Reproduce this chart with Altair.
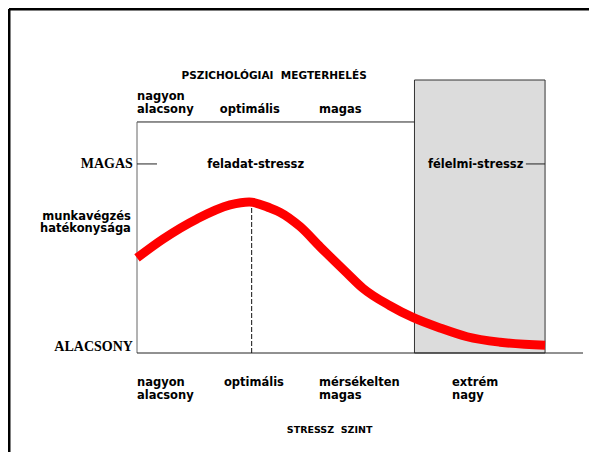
import altair as alt
import pandas as pd

# ---- data (stress level 0..100 across the plot box, performance 0=ALACSONY, 10=MAGAS)
stress = [0, 6.4, 14.7, 22.8, 27.5, 32.6, 35.0, 40.0, 44.9, 51.5, 55.4, 62.0, 67.6, 74.3, 80.9, 89.0, 100]
perf = [5.03, 6.03, 7.09, 7.83, 7.99, 7.67, 7.45, 6.68, 5.61, 4.22, 3.42, 2.50, 1.88, 1.32, 0.86, 0.57, 0.41]

optimum_x = 28.1
optimum_top = 7.78
fear_zone = [68.0, 100]
box_top = 12.22
zone_top = 14.44
high_level = 10
x_max = 109.3

top_labels = ["nagyon", "alacsony", "optimális", "magas"]
top_label_x = [0, 0, 20.3, 44.6]
top_label_y = [13.40, 12.72, 12.72, 12.72]

bottom_labels = ["nagyon", "alacsony", "optimális", "mérsékelten", "magas", "extrém", "nagy"]
bottom_label_x = [0, 0, 21.3, 44.6, 44.6, 77.2, 77.2]
bottom_label_y = [-1.75, -2.41, -1.75, -1.75, -2.41, -1.75, -2.41]

zone_labels = ["feladat-stressz", "félelmi-stressz"]
zone_label_x = [17.2, 71.3]
zone_label_y = [9.79, 9.79]

y_labels_serif = ["MAGAS", "ALACSONY"]
y_labels_serif_y = [9.79, 0.1]
y_label_lines = ["munkavégzés", "hatékonysága"]
y_label_lines_y = [7.06, 6.39]
label_right_x = -1.5

titles = ["PSZICHOLÓGIAI\u00a0\u00a0MEGTERHELÉS", "STRESSZ\u00a0\u00a0SZINT"]
title_x = [33.6, 47.2]
title_y = [14.5, -4.23]
title_size = [10.5, 9.5]

# page frame (in the same data units)
frame_x = [-31.37, 110.8]
frame_y = [-5.3, 18.2]

xs = alt.Scale(domain=[0, x_max], nice=False, zero=False)
ys = alt.Scale(domain=[0, zone_top], nice=False, zero=False)
X = lambda f: alt.X(f, type="quantitative", scale=xs, axis=None)
Y = lambda f: alt.Y(f, type="quantitative", scale=ys, axis=None)

zone = alt.Chart(pd.DataFrame({"x": [fear_zone[0]], "x2": [fear_zone[1]], "y": [0], "y2": [zone_top]})).mark_rect(
    fill="#dcdcdc", stroke="#333333", strokeWidth=1
).encode(x=X("x"), x2="x2", y=Y("y"), y2="y2")

segs = pd.DataFrame({
    "x": [frame_x[0], frame_x[0], 0, 0, 0, 0, 95.3],
    "x2": [frame_x[1], frame_x[0], fear_zone[0], 0, x_max, 4.9, 100],
    "y": [frame_y[1], frame_y[0], box_top, 0, 0, high_level, high_level],
    "y2": [frame_y[1], frame_y[1], box_top, box_top, 0, high_level, high_level],
    "w": [3, 3, 1, 1, 1, 1, 1],
    "c": ["#000000", "#000000", "#222222", "#666666", "#222222", "#222222", "#222222"],
})
rules = alt.Chart(segs).mark_rule().encode(
    x=X("x"), x2="x2", y=Y("y"), y2="y2",
    strokeWidth=alt.StrokeWidth("w:Q", scale=None),
    color=alt.Color("c:N", scale=None),
)

dashed = alt.Chart(pd.DataFrame({"x": [optimum_x], "y": [0], "y2": [optimum_top]})).mark_rule(
    color="#111111", strokeWidth=1, strokeDash=[5, 2]
).encode(x=X("x"), y=Y("y"), y2="y2")

curve = alt.Chart(pd.DataFrame({"x": stress, "y": perf})).mark_line(
    color="#ff0000", strokeWidth=9, interpolate="monotone", strokeCap="butt"
).encode(x=X("x"), y=Y("y"))

sans = "DejaVu Sans"
left_df = pd.DataFrame({
    "x": top_label_x + bottom_label_x + zone_label_x,
    "y": top_label_y + bottom_label_y + zone_label_y,
    "t": top_labels + bottom_labels + zone_labels,
})
left_text = alt.Chart(left_df).mark_text(
    align="left", baseline="alphabetic", font=sans, fontWeight="bold", fontSize=11.5, color="#000"
).encode(x=X("x"), y=Y("y"), text="t:N")

right_text = alt.Chart(pd.DataFrame({"x": [label_right_x] * 2, "y": y_label_lines_y, "t": y_label_lines})).mark_text(
    align="right", baseline="alphabetic", font=sans, fontWeight="bold", fontSize=11.5, color="#000"
).encode(x=X("x"), y=Y("y"), text="t:N")

serif_text = alt.Chart(pd.DataFrame({"x": [label_right_x + 0.5] * 2, "y": y_labels_serif_y, "t": y_labels_serif})).mark_text(
    align="right", baseline="alphabetic", font="Liberation Serif", fontWeight="bold", fontSize=14, color="#000"
).encode(x=X("x"), y=Y("y"), text="t:N")

title_text = alt.Chart(pd.DataFrame({"x": title_x, "y": title_y, "t": titles, "s": title_size})).mark_text(
    align="center", baseline="alphabetic", font=sans, fontWeight="bold", color="#000"
).encode(x=X("x"), y=Y("y"), text="t:N", size=alt.Size("s:Q", scale=None))

chart = alt.layer(zone, rules, dashed, curve, left_text, right_text, serif_text, title_text).properties(
    width=446, height=273,
    padding={"left": 129, "top": 72, "right": 6, "bottom": 99},
    autosize=alt.AutoSizeParams(type="none"),
    background="white",
).configure_view(stroke=None)

chart.save("out.html", embed_options={"renderer": "svg", "actions": False})
